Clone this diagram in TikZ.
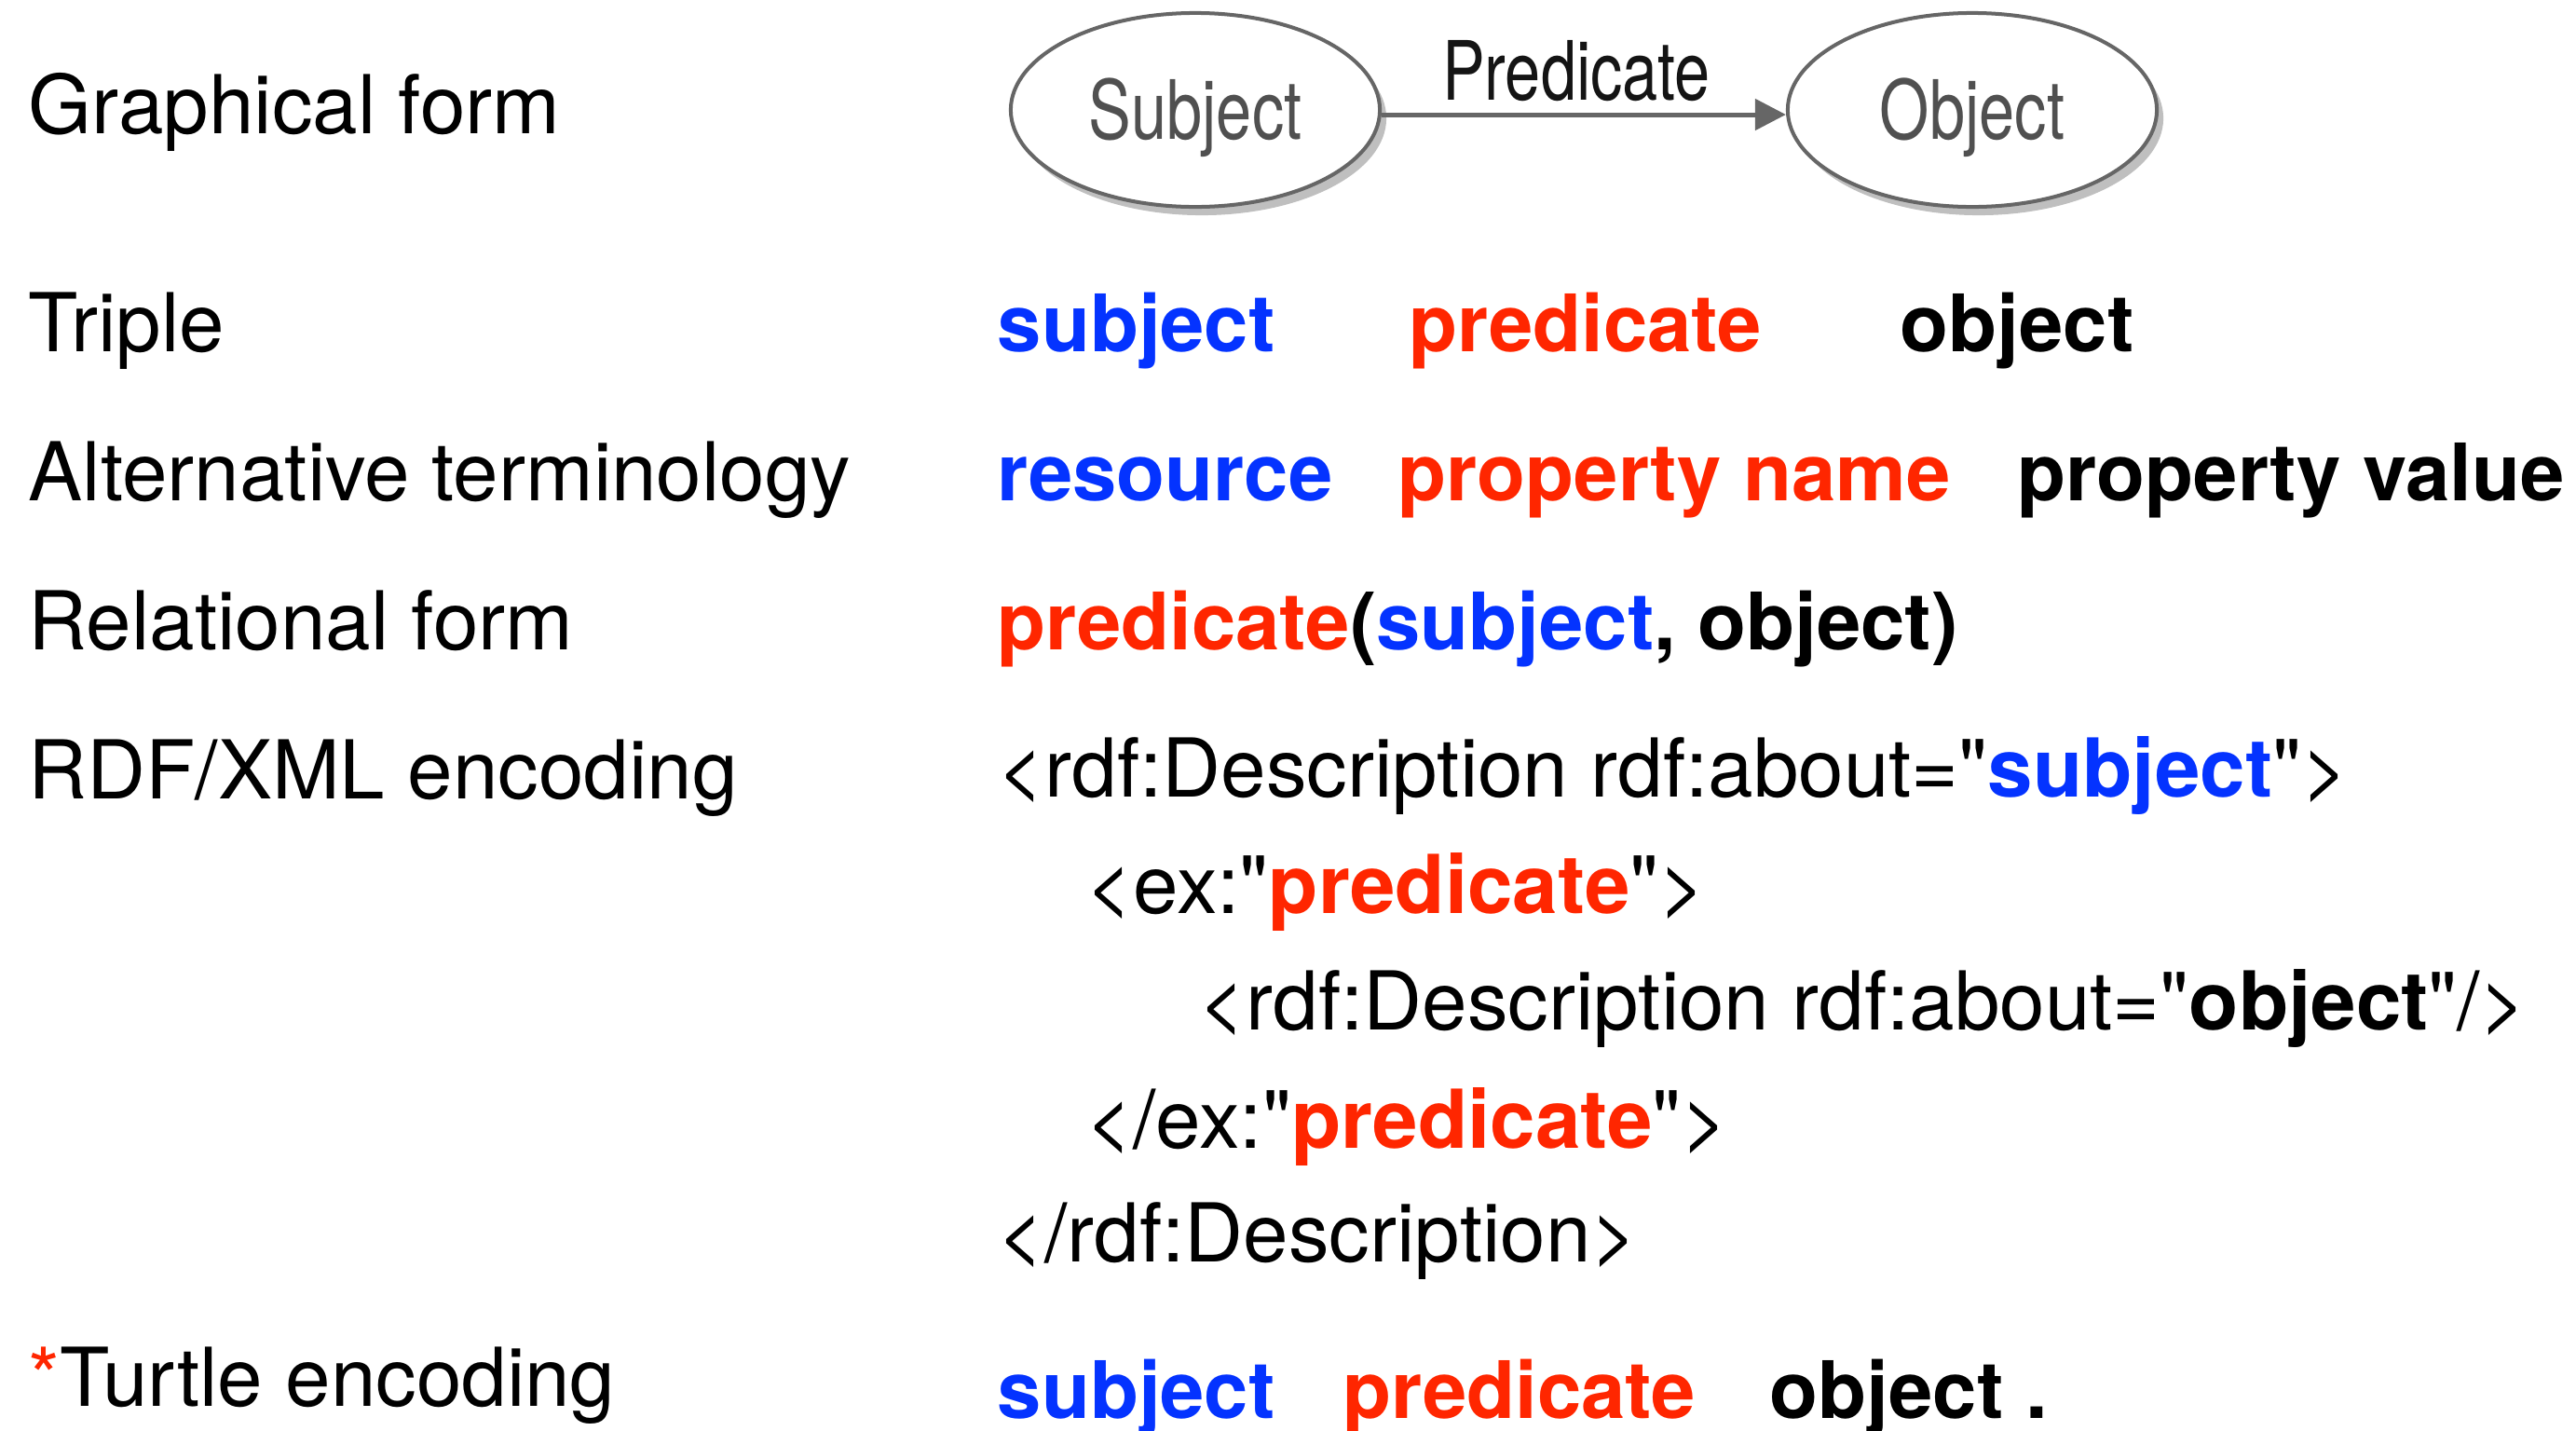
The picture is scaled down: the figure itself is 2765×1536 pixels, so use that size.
\documentclass[tikz,border=0pt]{standalone}
\usepackage{fontspec}
\setmainfont{TeX Gyre Heros}[Ligatures=TeXOff]
\usepackage{graphicx}
\usetikzlibrary{shapes.geometric,arrows.meta,shadows}
\definecolor{resblue}{RGB}{4,51,255}
\definecolor{predred}{RGB}{255,38,0}
\definecolor{edgegray}{RGB}{102,102,102}
\definecolor{nodetext}{RGB}{80,80,80}
\newcommand{\narrow}[1]{\scalebox{0.78}[1]{#1}}
% straight double quote, as in XML source
\newcommand{\sq}{\symbol{34}}
\begin{document}
\begin{tikzpicture}[x=0.01cm,y=-0.01cm,
  lbl/.style={anchor=base west,inner sep=0pt,font=\fontsize{24.8}{29}\selectfont},
  term/.style={anchor=base west,inner sep=0pt,font=\fontsize{24.2}{29}\selectfont\bfseries},
  resterm/.style={term,text=resblue},
  predterm/.style={term,text=predred},
  objterm/.style={term,text=black},
  gnode/.style={ellipse,draw=edgegray,line width=0.04cm,fill=white,
    minimum width=3.96cm,minimum height=2.08cm,inner sep=0pt,
    text=nodetext,font=\fontsize{25}{30}\selectfont,
    text height=0.63cm,text depth=0pt,
    drop shadow={shadow xshift=0.07cm,shadow yshift=-0.09cm,fill=black!25,opacity=1}},
  gedge/.style={draw=edgegray,line width=0.05cm,-{Triangle[length=0.33cm,width=0.33cm]}},
]
\useasboundingbox (0,0) rectangle (2765,1536);

% graph: subject --predicate--> object
\node[gnode] (subj) at (1283,118) {\narrow{Subject}};
\node[gnode] (obj) at (2117,118) {\narrow{Object}};
\draw[gedge] ([yshift=-0.05cm]subj.east) -- ([yshift=-0.05cm]obj.west);
\node[anchor=base,inner sep=0pt,font=\fontsize{25}{30}\selectfont,text=black!92] (predlbl) at (1692,107) {\narrow{Predicate}};

% row labels
\node[lbl] (lgraph) at (30,143) {Graphical form};
\node[lbl] (ltriple) at (30,377) {Triple};
\node[lbl] (lalt) at (30,537) {Alternative terminology};
\node[lbl] (lrel) at (30,697) {Relational form};
\node[lbl] (lrdf) at (30,857) {RDF/XML encoding};
\node[lbl] (lturtle) at (30,1509) {\textcolor{predred}{*}Turtle encoding};

% triple
\node[resterm] (tsubj) at (1070,377) {subject};
\node[predterm] (tpred) at (1512,377) {predicate};
\node[objterm] (tobj) at (2039,377) {object};

% alternative terminology
\node[resterm] (ares) at (1070,537) {resource};
\node[predterm] (aname) at (1500,537) {property name};
\node[objterm] (aval) at (2165,537) {property value};

% relational form
\node[term] (rel) at (1070,697) {\textcolor{predred}{predicate}(\textcolor{resblue}{subject}, object)};

% RDF/XML
\node[lbl] (x1) at (1070,855) {<rdf:Description rdf:about=\sq\textbf{\textcolor{resblue}{subject}}\sq>};
\node[lbl] (x2) at (1165,980) {<ex:\sq\textbf{\textcolor{predred}{predicate}}\sq>};
\node[lbl] (x3) at (1286,1105) {<rdf:Description rdf:about=\sq\textbf{object}\sq/>};
\node[lbl] (x4) at (1165,1232) {</ex:\sq\textbf{\textcolor{predred}{predicate}}\sq>};
\node[lbl] (x5) at (1070,1354) {</rdf:Description>};

% Turtle
\node[resterm] (ts) at (1070,1522) {subject};
\node[predterm] (tp) at (1441,1522) {predicate};
\node[objterm] (to) at (1899,1522) {object .};
\end{tikzpicture}
\end{document}
